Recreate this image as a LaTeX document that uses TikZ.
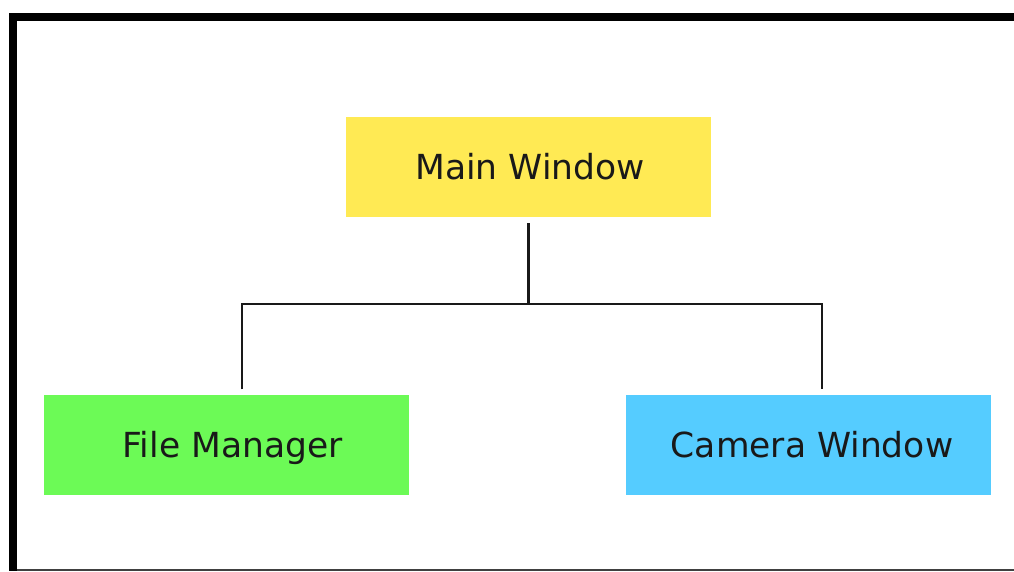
\documentclass[tikz,border=0pt]{standalone}
\usepackage{fontspec}
\setmainfont{DejaVu Sans}
\definecolor{mainyellow}{RGB}{255,234,84}
\definecolor{filegreen}{RGB}{108,250,86}
\definecolor{camblue}{RGB}{85,204,255}
\tikzset{
  winbox/.style={minimum width=365pt, minimum height=100pt, inner sep=0pt,
    text height=32pt, text depth=7pt,
    font=\fontsize{34.5}{41}\selectfont, text=black!90},
  conn/.style={line width=2.8pt, line join=miter, draw=black!90}
}
\begin{document}
\begin{tikzpicture}[x=1pt,y=-1pt]
  \useasboundingbox (0,0) rectangle (1014,571);
  % frame: heavy left and top edges, thin bottom edge
  \fill[black] (9,13) rectangle (17,571);
  \fill[black] (9,13) rectangle (1014,21);
  \fill[black!75] (17,569) rectangle (1014,571);

  % windows
  \node[winbox, fill=mainyellow] (main) at (528.5,167) {\hspace*{3pt}Main Window};
  \node[winbox, fill=filegreen] (fm) at (226.5,444.5) {\hspace*{12pt}File Manager};
  \node[winbox, fill=camblue] (cam) at (808.5,444.5) {\hspace*{7pt}Camera Window};

  % bus line ends
  \coordinate (busL) at (242,304);
  \coordinate (busR) at (822,304);

  % connectors
  \draw[conn, shorten <=6pt] (main.south) -- (main.south |- busL);
  \draw[conn, shorten <=5pt, shorten >=5pt]
    (busL |- fm.north) -- (busL) -- (busR) -- (busR |- cam.north);
\end{tikzpicture}
\end{document}
